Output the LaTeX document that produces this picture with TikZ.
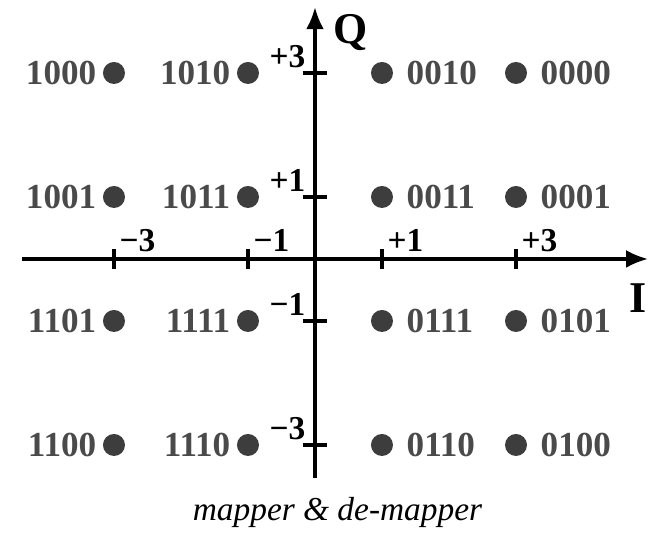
\documentclass[tikz,border=0pt]{standalone}
\usepackage{fontspec}
\setmainfont{Liberation Serif}
\usetikzlibrary{arrows.meta}
\definecolor{dotgray}{HTML}{3D3D3D}
\definecolor{codegray}{HTML}{4A4A4A}

\begin{document}
\begin{tikzpicture}[x=0.67cm, y=0.62cm, >={Latex[length=2.2mm, width=1.8mm]}, line width=0.9pt,
  symdot/.style={circle, fill=dotgray, inner sep=0pt, minimum size=2.2mm},
  codelbl/.style={text=codegray, font=\fontsize{10}{12}\selectfont\bfseries, inner sep=1pt},
  ticklbl/.style={font=\fontsize{9.5}{11}\selectfont\bfseries, inner sep=0pt}]

\useasboundingbox (-4.701,-4.484) rectangle (5.0,4.177);

% Axes
\coordinate (iL) at (-4.37,0);
\coordinate (iR) at (4.97,0);
\coordinate (qB) at (0,-3.53);
\coordinate (qT) at (0,4.06);
\draw[->] (iL) -- (iR);
\draw[->] (qB) -- (qT);
\node[font=\fontsize{12.5}{14}\selectfont\bfseries, inner sep=0pt, anchor=base west] (ilbl) at (4.67,-0.87) {I};
\node[font=\fontsize{12.5}{14}\selectfont\bfseries, inner sep=0pt, anchor=base west] (qlbl) at (0.25,3.48) {Q};

% Ticks and tick labels
\foreach \v/\t/\n in {-3/−3/a, -1/−1/b, 1/+1/c, 3/+3/d} {
  \draw (\v,-0.16) -- (\v,0.16);
  \draw (-0.18,\v) -- (0.18,\v);
  \node[ticklbl, anchor=base west] (tx\n) at (\v+0.06,0.12) {\t};
  \node[ticklbl, anchor=base east] (ty\n) at (-0.12,\v+0.09) {\t};
}

% Constellation points, left half
\foreach \x/\y/\code in {-3/3/1000, -1/3/1010, -3/1/1001, -1/1/1011,
                         -3/-1/1101, -1/-1/1111, -3/-3/1100, -1/-3/1110} {
  \node[symdot, label={[codelbl, label distance=0pt]left:\code}] (s\code) at (\x,\y) {};
}
% Constellation points, right half
\foreach \x/\y/\code in {1/3/0010, 3/3/0000, 1/1/0011, 3/1/0001,
                         1/-1/0111, 3/-1/0101, 1/-3/0110, 3/-3/0100} {
  \node[symdot, label={[codelbl, label distance=2pt]right:\code}] (s\code) at (\x,\y) {};
}

% Caption
\node[font=\fontsize{9.5}{11}\selectfont\itshape, anchor=base] (caption) at (0.336,-4.21) {mapper \& de-mapper};

\end{tikzpicture}
\end{document}
